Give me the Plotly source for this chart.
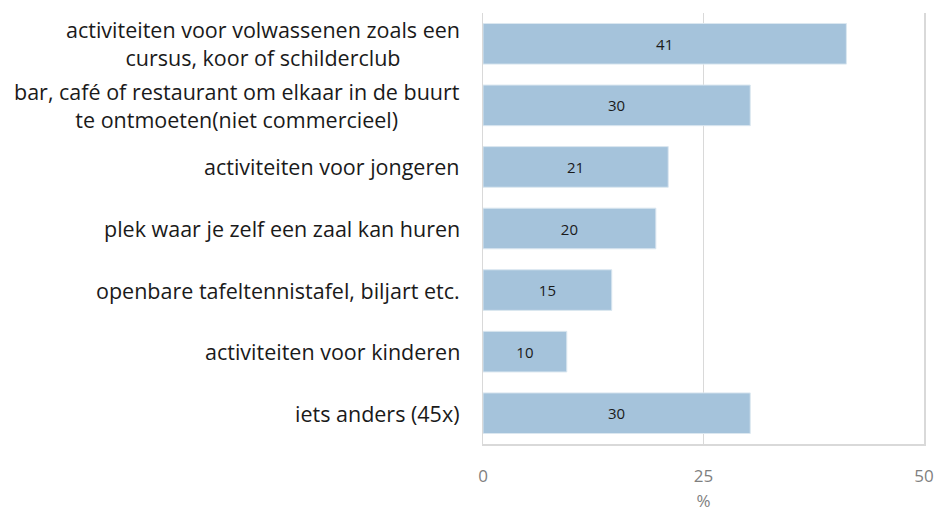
import plotly.graph_objects as go

categories = [
    "activiteiten voor volwassenen zoals een<br>cursus, koor of schilderclub",
    "bar, café of restaurant om elkaar in de buurt<br>te ontmoeten(niet commercieel)",
    "activiteiten voor jongeren",
    "plek waar je zelf een zaal kan huren",
    "openbare tafeltennistafel, biljart etc.",
    "activiteiten voor kinderen",
    "iets anders (45x)",
]
values = [41.2, 30.3, 21.0, 19.6, 14.6, 9.5, 30.3]
value_labels = ["41", "30", "21", "20", "15", "10", "30"]
x_ticks = [0, 25, 50]

FONT = "Open Sans"
ypos = list(range(len(categories)))

fig = go.Figure()
fig.add_trace(go.Bar(
    x=values, y=ypos, orientation="h",
    marker=dict(color="#a5c3db", line=dict(color="#dbe7f0", width=1)),
    text=value_labels, textposition="inside", insidetextanchor="middle",
    textfont=dict(family=FONT, size=15, color="#1a1a1a"),
    width=0.66, hoverinfo="skip",
))

for i, c in enumerate(categories):
    fig.add_annotation(
        x=0, xref="paper", y=i, yref="y", text=c, showarrow=False,
        xanchor="right", yanchor="middle", align="center", xshift=-21,
        font=dict(family=FONT, size=21.5, color="#1a1a1a"),
    )

fig.update_layout(
    width=937, height=513,
    margin=dict(l=483, r=13, t=13, b=69, autoexpand=False),
    plot_bgcolor="white", paper_bgcolor="white",
    showlegend=False,
    xaxis=dict(
        range=[0, 50], tickvals=x_ticks, showgrid=True, gridcolor="#d9d9d9", gridwidth=1.5,
        zeroline=False, showline=True, linecolor="#d9d9d9", linewidth=1.5,
        tickfont=dict(family=FONT, size=17, color="#7f7f7f"), ticks="", ticklabelstandoff=16,
        title=dict(text="%", font=dict(family=FONT, size=17, color="#7f7f7f"), standoff=9),
        automargin=False,
    ),
    yaxis=dict(
        range=[6.5, -0.5], showticklabels=False, showgrid=False, zeroline=False,
        showline=True, linecolor="#d9d9d9", linewidth=1.5, mirror=True,
        ticks="", automargin=False,
    ),
)

fig.write_html(
    "out.html",
    config={"displayModeBar": False, "staticPlot": True},
    post_script="document.body.style.margin='0';document.body.style.overflow='hidden';",
)
